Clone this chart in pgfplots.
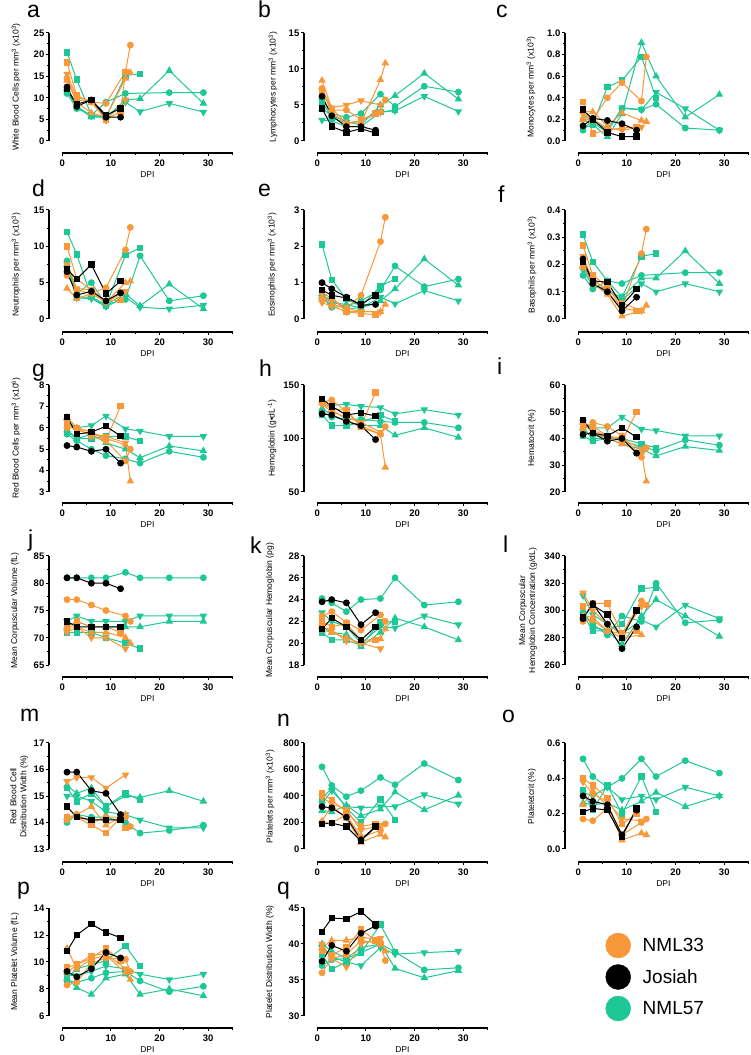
\documentclass[border=0pt]{standalone}
\usepackage{fontspec}
\setmainfont{Liberation Sans}
\usepackage{pgfplots}
\pgfplotsset{compat=1.18}
\definecolor{org}{RGB}{248,152,56}
\definecolor{grn}{RGB}{30,200,150}
\pgfplotsset{
  prism/.style={
    scale only axis, width=183.6pt, xmin=-2.7, xmax=35, anchor=south west, clip=false,
    axis x line*=bottom, axis y line*=left, axis line style={draw=none,-},
    xtick={0,10,20,30}, minor xtick={5,15,25,35},
    tick align=outside, major tick length=3.5pt, minor tick length=2pt,
    tick style={black, line width=1pt},
    /pgf/number format/assume math mode=true,
    tick label style={font=\fontsize{9.5}{10}\selectfont\bfseries},
    yticklabel style={inner xsep=1pt},
    xlabel={DPI},
    xlabel style={at={(axis description cs:0.536,0)}, anchor=center, yshift=-21.5pt, font=\fontsize{8.5}{9}\selectfont},
    ylabel style={at={(axis description cs:-0.1797,0.55)}, anchor=center, font=\fontsize{8.5}{10}\selectfont, align=center},
  },
  yl/.style={ylabel style={at={(axis description cs:#1,0.55)}}},
  gc/.style={grn, mark=*, mark size=2.9pt, line width=1pt, mark options={solid}},
  gs/.style={grn, mark=square*, mark size=2.7pt, line width=1pt, mark options={solid}},
  gt/.style={grn, mark=triangle*, mark size=3.4pt, line width=1pt, mark options={solid}},
  gd/.style={grn, mark=triangle*, mark size=3.4pt, line width=1pt, mark options={solid,rotate=180}},
  oc/.style={org, mark=*, mark size=2.9pt, line width=1pt, mark options={solid}},
  os/.style={org, mark=square*, mark size=2.7pt, line width=1pt, mark options={solid}},
  ot/.style={org, mark=triangle*, mark size=3.4pt, line width=1pt, mark options={solid}},
  od/.style={org, mark=triangle*, mark size=3.4pt, line width=1pt, mark options={solid,rotate=180}},
  kc/.style={black, mark=*, mark size=2.9pt, line width=1pt, mark options={solid}},
  ks/.style={black, mark=square*, mark size=2.7pt, line width=1pt, mark options={solid}},
}
\newcommand{\axl}[3]{%
  \draw[black, line width=1.4pt] (axis cs:-2.7,#1) -- (axis cs:-2.7,#3);
  \draw[black, line width=1.4pt] (axis cs:0,#2) -- (axis cs:35,#2);}
\newcommand{\plet}[3]{\node[anchor=base west, inner sep=0pt, font=\fontsize{23}{23}\selectfont] at (#1pt,#2pt) {#3};}
\begin{document}
\begin{tikzpicture}
\path[use as bounding box] (0,0) rectangle (750pt,1055pt);
% panel letters
\plet{27}{1037}{a}\plet{258}{1037}{b}\plet{496}{1037}{c}
\plet{32}{858}{d}\plet{258}{858}{e}\plet{498}{852}{f}
\plet{32}{678}{g}\plet{259}{678}{h}\plet{497}{680}{i}
\plet{28}{508}{j}\plet{250}{501}{k}\plet{503}{502}{l}
\plet{20}{333}{m}\plet{277}{328}{n}\plet{502}{332}{o}
\plet{17}{160}{p}\plet{277}{160}{q}

% ---------- a
\begin{axis}[prism, at={(49pt,902pt)}, height=120pt, ymin=-2.778, ymax=25,
  ytick={0,5,10,15,20,25}, minor ytick={2.5,7.5,12.5,17.5,22.5},
  ylabel={White Blood Cells per mm\textsuperscript{3} (x10\textsuperscript{3})}]
\axl{0}{-2.778}{25}
\addplot[gc] coordinates {(1,11)(3,7.5)(6,6)(9,9)(13,11)(22,11.2)(29,11.2)};
\addplot[gs] coordinates {(1,20.5)(3,14.2)(6,6)(9,5.5)(13,15.2)(16,15.5)};
\addplot[gt] coordinates {(1,12)(3,8)(6,5.5)(9,5.5)(13,9.5)(16,9.8)(22,16.3)(29,8.7)};
\addplot[gd] coordinates {(1,11.5)(3,8)(6,5.8)(9,5.5)(13,9)(16,6.8)(22,8.7)(29,6.7)};
\addplot[oc] coordinates {(1,14.5)(3,9.5)(6,9)(9,8.7)(13,16)(14,22.2)};
\addplot[os] coordinates {(1,18.2)(3,10.5)(6,9)(9,5)(12,6.8)(13,16)};
\addplot[ot] coordinates {(1,14)(3,9)(6,6.5)(9,5.5)(13,14.5)(14,15.8)};
\addplot[od] coordinates {(1,15.5)(3,10)(6,9.3)(9,4.8)(13,9.5)};
\addplot[kc] coordinates {(1,12.5)(3,8)(6,9.5)(9,5.5)(12,5.5)};
\addplot[ks] coordinates {(1,12)(3,8.5)(6,9.5)(9,6)(12,7.5)};
\end{axis}

% ---------- b
\begin{axis}[prism, at={(304pt,902pt)}, height=120pt, ymin=-1.667, ymax=15,
  ytick={0,5,10,15}, minor ytick={2.5,7.5,12.5}, yl=-0.1688,
  ylabel={Lymphocytes per mm\textsuperscript{3} (x10\textsuperscript{3})}]
\axl{0}{-1.667}{15}
\addplot[gc] coordinates {(1,5.8)(3,3.8)(6,3.3)(9,3.8)(13,6.5)(16,4.8)(22,7.6)(29,6.8)};
\addplot[gs] coordinates {(1,5.5)(3,3.2)(6,2.5)(9,2.8)(13,4.0)(16,4.3)};
\addplot[gt] coordinates {(1,4.5)(3,3.5)(6,2.7)(9,2.2)(13,5.0)(16,6.3)(22,9.4)(29,5.8)};
\addplot[gd] coordinates {(1,2.9)(3,2.8)(6,2.0)(9,2.0)(13,4.0)(16,4.2)(22,6.2)(29,4.1)};
\addplot[oc] coordinates {(1,7.3)(3,4.3)(6,4.3)(9,3.0)(13,4.0)(14,5.7)};
\addplot[os] coordinates {(1,7.0)(3,4.0)(6,2.4)(9,2.8)(12,3.8)};
\addplot[ot] coordinates {(1,8.4)(3,4.5)(6,2.5)(9,2.5)(13,8.5)(14,10.8)};
\addplot[od] coordinates {(1,7.0)(3,4.6)(6,5.0)(9,5.6)(13,5.0)};
\addplot[kc] coordinates {(1,6.2)(3,3.5)(6,2.0)(9,2.0)(12,1.5)};
\addplot[ks] coordinates {(1,4.5)(3,2.0)(6,1.2)(9,1.7)(12,1.1)};
\end{axis}

% ---------- c
\begin{axis}[prism, at={(565pt,902pt)}, height=120pt, ymin=-0.1111, ymax=1,
  ytick={0,0.2,0.4,0.6,0.8,1.0}, minor ytick={0.1,0.3,0.5,0.7,0.9},
  yticklabel style={/pgf/number format/.cd, fixed, fixed zerofill, precision=1},
  yl=-0.185,
  ylabel={Monocytes per mm\textsuperscript{3} (x10\textsuperscript{3})}]
\axl{0}{-0.1111}{1}
\addplot[gc] coordinates {(1,0.10)(3,0.20)(6,0.10)(9,0.30)(13,0.29)(16,0.34)(22,0.12)(29,0.10)};
\addplot[gs] coordinates {(1,0.12)(3,0.15)(6,0.50)(9,0.56)(13,0.78)(16,0.40)};
\addplot[gt] coordinates {(1,0.20)(3,0.15)(6,0.04)(9,0.25)(13,0.91)(16,0.60)(22,0.22)(29,0.43)};
\addplot[gd] coordinates {(1,0.25)(3,0.17)(6,0.08)(9,0.31)(13,0.29)(16,0.45)(22,0.30)(29,0.10)};
\addplot[oc] coordinates {(1,0.20)(3,0.20)(6,0.40)(9,0.54)(13,0.37)(14,0.78)};
\addplot[os] coordinates {(1,0.36)(3,0.07)(6,0.10)(9,0.12)(12,0.13)};
\addplot[ot] coordinates {(1,0.28)(3,0.27)(6,0.14)(9,0.26)(13,0.19)(14,0.18)};
\addplot[od] coordinates {(1,0.25)(3,0.20)(6,0.12)(9,0.10)(13,0.13)};
\addplot[kc] coordinates {(1,0.14)(3,0.21)(6,0.19)(9,0.16)(12,0.10)};
\addplot[ks] coordinates {(1,0.29)(3,0.20)(6,0.08)(9,0.04)(12,0.04)};
\end{axis}

% ---------- d
\begin{axis}[prism, at={(49pt,723pt)}, height=122pt, ymin=-1.789, ymax=15,
  ytick={0,5,10,15}, minor ytick={2.5,7.5,12.5},
  ylabel={Neutrophils per mm\textsuperscript{3} (x10\textsuperscript{3})}]
\axl{0}{-1.789}{15}
\addplot[gc] coordinates {(1,8.0)(3,3.5)(6,5.0)(9,2.0)(13,2.7)(16,8.7)(22,2.5)(29,3.2)};
\addplot[gs] coordinates {(1,12)(3,8.9)(6,3.0)(9,1.8)(13,8.8)(16,9.8)};
\addplot[gt] coordinates {(1,7.5)(3,3.0)(6,3.0)(9,2.0)(13,3.5)(16,1.8)(22,4.8)(29,1.4)};
\addplot[gd] coordinates {(1,7.0)(3,2.9)(6,2.8)(9,1.7)(13,3.0)(16,1.6)(22,1.4)(29,1.9)};
\addplot[oc] coordinates {(1,6.0)(3,4.0)(6,3.5)(9,4.3)(13,9.5)(14,12.6)};
\addplot[os] coordinates {(1,10)(3,5.5)(6,4.0)(9,2.5)(12,2.6)};
\addplot[ot] coordinates {(1,4.2)(3,2.8)(6,3.5)(9,2.3)(13,5.0)(14,5.2)};
\addplot[od] coordinates {(1,7.5)(3,4.2)(6,4.0)(9,2.3)(13,3.8)};
\addplot[kc] coordinates {(1,6.5)(3,3.3)(6,3.8)(9,2.5)(12,3.6)};
\addplot[ks] coordinates {(1,6.8)(3,5.5)(6,7.5)(9,3.5)(12,5.2)};
\end{axis}

% ---------- e
\begin{axis}[prism, at={(304pt,723pt)}, height=122pt, ymin=-0.358, ymax=3,
  ytick={0,1,2,3}, minor ytick={0.5,1.5,2.5}, yl=-0.174,
  ylabel={Eosinophils per mm\textsuperscript{3} (x10\textsuperscript{3})}]
\axl{0}{-0.358}{3}
\addplot[gc] coordinates {(1,0.6)(3,0.32)(6,0.35)(9,0.5)(13,0.8)(16,1.46)(22,0.89)(29,1.1)};
\addplot[gs] coordinates {(1,2.05)(3,1.08)(6,0.55)(9,0.35)(13,0.9)(16,1.1)};
\addplot[gt] coordinates {(1,0.7)(3,0.45)(6,0.4)(9,0.3)(13,0.5)(16,0.83)(22,1.65)(29,0.93)};
\addplot[gd] coordinates {(1,0.55)(3,0.5)(6,0.3)(9,0.3)(13,0.6)(16,0.42)(22,0.78)(29,0.5)};
\addplot[oc] coordinates {(1,0.75)(3,0.55)(6,0.3)(9,0.65)(13,2.13)(14,2.8)};
\addplot[os] coordinates {(1,0.55)(3,0.6)(6,0.2)(9,0.15)(12,0.12)};
\addplot[ot] coordinates {(1,0.6)(3,0.4)(6,0.3)(9,0.2)(13,0.2)(14,0.4)};
\addplot[od] coordinates {(1,0.45)(3,0.35)(6,0.2)(9,0.2)(13,0.2)};
\addplot[kc] coordinates {(1,1.0)(3,0.83)(6,0.6)(9,0.38)(12,0.4)};
\addplot[ks] coordinates {(1,0.8)(3,0.65)(6,0.58)(9,0.4)(12,0.65)};
\end{axis}

% ---------- f
\begin{axis}[prism, at={(565pt,723pt)}, height=122pt, ymin=-0.0477, ymax=0.4,
  ytick={0,0.1,0.2,0.3,0.4}, minor ytick={0.05,0.15,0.25,0.35},
  yticklabel style={/pgf/number format/.cd, fixed, fixed zerofill, precision=1},
  ylabel={Basophils per mm\textsuperscript{3} (x10\textsuperscript{3})}]
\axl{0}{-0.0477}{0.4}
\addplot[gc] coordinates {(1,0.16)(3,0.11)(6,0.14)(9,0.13)(13,0.16)(22,0.17)(29,0.17)};
\addplot[gs] coordinates {(1,0.31)(3,0.21)(6,0.14)(9,0.08)(13,0.23)(16,0.24)};
\addplot[gt] coordinates {(1,0.19)(3,0.13)(6,0.10)(9,0.08)(13,0.15)(16,0.15)(22,0.25)(29,0.13)};
\addplot[gd] coordinates {(1,0.18)(3,0.12)(6,0.11)(9,0.07)(13,0.13)(16,0.10)(22,0.13)(29,0.10)};
\addplot[oc] coordinates {(1,0.19)(3,0.15)(6,0.10)(9,0.04)(13,0.24)(14,0.33)};
\addplot[os] coordinates {(1,0.27)(3,0.16)(6,0.12)(9,0.04)(12,0.03)};
\addplot[ot] coordinates {(1,0.20)(3,0.13)(6,0.09)(9,0.01)(13,0.03)(14,0.05)};
\addplot[od] coordinates {(1,0.23)(3,0.14)(6,0.11)(9,0.06)(13,0.03)};
\addplot[kc] coordinates {(1,0.22)(3,0.13)(6,0.10)(9,0.03)(12,0.08)};
\addplot[ks] coordinates {(1,0.21)(3,0.14)(6,0.135)(9,0.05)(12,0.11)};
\end{axis}

% ---------- g
\begin{axis}[prism, at={(49pt,552pt)}, height=118pt, ymin=2.486, ymax=8,
  ytick={3,4,5,6,7,8}, minor ytick={3.5,4.5,5.5,6.5,7.5},
  ylabel={Red Blood Cells per mm\textsuperscript{3} (x10\textsuperscript{6})}]
\axl{3}{2.486}{8}
\addplot[gc] coordinates {(1,5.7)(3,5.4)(6,5.0)(9,4.7)(13,4.55)(16,4.35)(22,4.9)(29,4.62)};
\addplot[gs] coordinates {(1,5.8)(3,5.5)(6,5.5)(9,5.6)(13,5.6)(16,5.38)};
\addplot[gt] coordinates {(1,5.9)(3,5.5)(6,5.7)(9,5.3)(13,5.0)(16,4.6)(22,5.15)(29,4.92)};
\addplot[gd] coordinates {(1,6.3)(3,6.0)(6,6.1)(9,6.55)(13,5.95)(16,5.85)(22,5.6)(29,5.6)};
\addplot[oc] coordinates {(1,6.0)(3,6.0)(6,5.6)(9,5.4)(13,4.45)(14,5.0)};
\addplot[os] coordinates {(1,6.1)(3,6.0)(6,5.8)(9,5.4)(12,7.02)};
\addplot[ot] coordinates {(1,6.5)(3,6.0)(6,5.8)(9,5.5)(13,5.2)(14,3.5)};
\addplot[od] coordinates {(1,6.3)(3,5.9)(6,5.7)(9,5.6)(13,5.3)};
\addplot[kc] coordinates {(1,5.17)(3,5.1)(6,4.9)(9,5.0)(12,4.35)};
\addplot[ks] coordinates {(1,6.5)(3,5.7)(6,5.8)(9,6.07)(12,5.62)};
\end{axis}

% ---------- h
\begin{axis}[prism, at={(304pt,552pt)}, height=118pt, ymin=39.72, ymax=150,
  ytick={50,100,150}, minor ytick={75,125}, yl=-0.174,
  ylabel={Hemoglobin (g•dL\textsuperscript{-1})}]
\axl{50}{39.72}{150}
\addplot[gc] coordinates {(1,125)(3,120)(6,118)(9,118)(13,116)(16,115)(22,115)(29,110)};
\addplot[gs] coordinates {(1,122)(3,112)(6,112)(9,115)(13,122)(16,116)};
\addplot[gt] coordinates {(1,128)(3,122)(6,116)(9,112)(13,112)(16,103)(22,110)(29,101)};
\addplot[gd] coordinates {(1,132)(3,131)(6,132)(9,130)(13,129)(16,123)(22,127)(29,122)};
\addplot[oc] coordinates {(1,134)(3,136)(6,125)(9,112)(13,104)(14,111)};
\addplot[os] coordinates {(1,135)(3,128)(6,126)(9,112)(12,143)};
\addplot[ot] coordinates {(1,133)(3,127)(6,118)(9,110)(13,104)(14,73)};
\addplot[od] coordinates {(1,132)(3,125)(6,120)(9,115)(13,106)};
\addplot[kc] coordinates {(1,123)(3,122)(6,116)(9,112)(12,99)};
\addplot[ks] coordinates {(1,137)(3,130)(6,122)(9,124)(12,121)};
\end{axis}

% ---------- i
\begin{axis}[prism, at={(565pt,552pt)}, height=118pt, ymin=15.89, ymax=60,
  ytick={20,30,40,50,60}, minor ytick={25,35,45,55},
  ylabel={Hematocrit (\%)}]
\axl{20}{15.89}{60}
\addplot[gc] coordinates {(1,43)(3,41)(6,41)(9,39)(13,37)(16,35.5)(22,39.5)(29,37.5)};
\addplot[gs] coordinates {(1,41)(3,39)(6,40)(9,40)(13,38)(16,36.5)};
\addplot[gt] coordinates {(1,44)(3,40)(6,40)(9,38)(13,36)(16,33.5)(22,37)(29,35.5)};
\addplot[gd] coordinates {(1,46)(3,44)(6,44)(9,48)(13,43.5)(16,43)(22,41)(29,41)};
\addplot[oc] coordinates {(1,44)(3,46)(6,44.5)(9,41)(13,33)(14,36.5)};
\addplot[os] coordinates {(1,44)(3,44.5)(6,41)(9,39)(12,50)};
\addplot[ot] coordinates {(1,46)(3,42)(6,40)(9,38)(13,35)(14,24)};
\addplot[od] coordinates {(1,45)(3,43)(6,41)(9,40)(13,36)};
\addplot[kc] coordinates {(1,41.5)(3,42)(6,39)(9,40)(12,34.5)};
\addplot[ks] coordinates {(1,47)(3,42)(6,41)(9,44)(12,40.5)};
\end{axis}

% ---------- j
\begin{axis}[prism, at={(49pt,378pt)}, height=121pt, ymin=62.80, ymax=85,
  ytick={65,70,75,80,85}, minor ytick={67.5,72.5,77.5,82.5}, yl=-0.185,
  ylabel={Mean Corpuscular Volume (fL)}]
\axl{65}{62.80}{85}
\addplot[gc] coordinates {(1,81)(3,81)(6,81)(9,81)(13,82)(16,81)(22,81)(29,81)};
\addplot[gs] coordinates {(1,71)(3,71)(6,71)(9,70)(13,69)(16,68)};
\addplot[gt] coordinates {(1,72)(3,73)(6,72)(9,72)(13,72)(16,72)(22,73)(29,73)};
\addplot[gd] coordinates {(1,73)(3,74)(6,73)(9,73)(13,73)(16,74)(22,74)(29,74)};
\addplot[oc] coordinates {(1,77)(3,77)(6,76)(9,75)(13,74)(14,73)};
\addplot[os] coordinates {(1,72)(3,73)(6,72)(9,72)(12,71)};
\addplot[ot] coordinates {(1,72)(3,72)(6,71)(9,71)(13,70)(14,69)};
\addplot[od] coordinates {(1,71)(3,72)(6,70)(9,70)(13,68)};
\addplot[kc] coordinates {(1,81)(3,81)(6,80)(9,80)(12,79)};
\addplot[ks] coordinates {(1,73)(3,72)(6,72)(9,72)(12,72)};
\end{axis}

% ---------- k
\begin{axis}[prism, at={(304pt,378pt)}, height=121pt, ymin=16.90, ymax=28,
  ytick={18,20,22,24,26,28}, minor ytick={19,21,23,25,27}, yl=-0.185,
  ylabel={Mean Corpuscular Hemoglobin (pg)}]
\axl{18}{16.90}{28}
\addplot[gc] coordinates {(1,24.1)(3,23.7)(6,22.9)(9,24.0)(13,24.1)(16,26.0)(22,23.5)(29,23.8)};
\addplot[gs] coordinates {(1,21.0)(3,20.3)(6,20.3)(9,19.8)(13,21.9)(16,22.0)};
\addplot[gt] coordinates {(1,21.5)(3,21.0)(6,20.8)(9,19.7)(13,21.0)(16,22.3)(22,21.5)(29,20.3)};
\addplot[gd] coordinates {(1,22.8)(3,22.0)(6,21.5)(9,20.0)(13,21.5)(16,21.4)(22,22.5)(29,21.7)};
\addplot[oc] coordinates {(1,22.5)(3,22.9)(6,21.9)(9,21.2)(13,22.6)(14,22.0)};
\addplot[os] coordinates {(1,22.0)(3,21.5)(6,21.8)(9,20.3)(12,20.3)};
\addplot[ot] coordinates {(1,21.2)(3,21.0)(6,20.5)(9,20.0)(13,20.4)(14,21.3)};
\addplot[od] coordinates {(1,21.5)(3,21.2)(6,20.2)(9,20.0)(13,19.5)};
\addplot[kc] coordinates {(1,23.8)(3,24.0)(6,23.7)(9,21.7)(12,22.8)};
\addplot[ks] coordinates {(1,21.3)(3,22.3)(6,21.5)(9,20.3)(12,21.5)};
\end{axis}

% ---------- l
\begin{axis}[prism, at={(565pt,378pt)}, height=121pt, ymin=251.19, ymax=340,
  ytick={260,280,300,320,340}, minor ytick={270,290,310,330}, yl=-0.2015,
  ylabel={Mean Corpuscular\\Hemoglobin Concentration (g/dL)}]
\axl{260}{251.19}{340}
\addplot[gc] coordinates {(1,298)(3,290)(6,282)(9,296)(13,292)(16,320)(22,291)(29,293)};
\addplot[gs] coordinates {(1,297)(3,285)(6,285)(9,290)(13,316)(16,317)};
\addplot[gt] coordinates {(1,300)(3,288)(6,285)(9,275)(13,296)(16,308)(22,296)(29,281)};
\addplot[gd] coordinates {(1,311)(3,297)(6,290)(9,283)(13,293)(16,288)(22,304)(29,294)};
\addplot[oc] coordinates {(1,292)(3,293)(6,285)(9,283)(13,307)(14,304)};
\addplot[os] coordinates {(1,303)(3,305)(6,305)(9,283)(12,285)};
\addplot[ot] coordinates {(1,296)(3,295)(6,285)(9,280)(13,282)};
\addplot[od] coordinates {(1,313)(3,300)(6,290)(9,282)(13,303)};
\addplot[kc] coordinates {(1,294)(3,305)(6,290)(9,272)(12,288)};
\addplot[ks] coordinates {(1,295)(3,304)(6,297)(9,280)(12,300)};
\end{axis}

% ---------- m
\begin{axis}[prism, at={(49pt,193pt)}, height=119pt, ymin=12.51, ymax=17,
  ytick={13,14,15,16,17}, minor ytick={13.5,14.5,15.5,16.5}, yl=-0.163,
  ylabel={Red Blood Cell\\Distribution Width (\%)}]
\axl{13}{12.51}{17}
\addplot[gc] coordinates {(1,14.0)(3,14.3)(6,14.2)(9,14.2)(13,14.0)(16,13.6)(22,13.7)(29,13.9)};
\addplot[gs] coordinates {(1,15.3)(3,14.8)(6,15.1)(9,14.6)(13,15.1)(16,14.85)};
\addplot[gt] coordinates {(1,15.4)(3,15.1)(6,15.3)(9,14.6)(13,15.0)(16,14.95)(22,15.2)(29,14.8)};
\addplot[gd] coordinates {(1,15.0)(3,15.0)(6,14.8)(9,14.4)(13,14.3)(16,14.1)(22,13.8)(29,13.8)};
\addplot[oc] coordinates {(1,14.1)(3,14.3)(6,14.0)(9,14.2)(13,14.2)(14,13.85)};
\addplot[os] coordinates {(1,14.2)(3,14.2)(6,13.9)(9,13.6)(12,14.2)(13,13.8)};
\addplot[ot] coordinates {(1,14.2)(3,14.3)(6,14.6)(9,13.9)(13,14.3)};
\addplot[od] coordinates {(1,15.55)(3,15.7)(6,15.7)(9,15.3)(13,15.8)};
\addplot[kc] coordinates {(1,15.9)(3,15.9)(6,15.2)(9,15.1)(12,14.3)};
\addplot[ks] coordinates {(1,14.6)(3,14.2)(6,14.1)(9,14.1)(12,14.1)};
\end{axis}

% ---------- n
\begin{axis}[prism, at={(304pt,193pt)}, height=119pt, ymin=-98.1, ymax=800,
  ytick={0,200,400,600,800}, minor ytick={100,300,500,700}, yl=-0.185,
  ylabel={Platelets per mm\textsuperscript{3} (x10\textsuperscript{3})}]
\axl{0}{-98.1}{800}
\addplot[gc] coordinates {(1,620)(3,480)(6,395)(9,440)(13,540)(16,485)(22,645)(29,520)};
\addplot[gs] coordinates {(1,380)(3,460)(6,310)(9,200)(13,375)(16,220)};
\addplot[gt] coordinates {(1,290)(3,280)(6,330)(9,250)(13,300)(16,430)(22,295)(29,405)};
\addplot[gd] coordinates {(1,340)(3,440)(6,320)(9,310)(13,320)(16,320)(22,410)(29,340)};
\addplot[oc] coordinates {(1,200)(3,195)(6,260)(9,90)(13,140)(14,190)};
\addplot[os] coordinates {(1,420)(3,370)(6,280)(9,170)(12,190)};
\addplot[ot] coordinates {(1,210)(3,330)(6,230)(9,50)(13,110)(14,90)};
\addplot[od] coordinates {(1,390)(3,340)(6,300)(9,140)(13,180)};
\addplot[kc] coordinates {(1,320)(3,310)(6,240)(9,70)(12,170)};
\addplot[ks] coordinates {(1,190)(3,195)(6,170)(9,60)(12,170)};
\end{axis}

% ---------- o
\begin{axis}[prism, at={(565pt,193pt)}, height=119pt, ymin=-0.0736, ymax=0.6,
  ytick={0,0.2,0.4,0.6}, minor ytick={0.1,0.3,0.5},
  yticklabel style={/pgf/number format/.cd, fixed, fixed zerofill, precision=1},
  ylabel={Plateletcrit (\%)}]
\axl{0}{-0.0736}{0.6}
\addplot[gc] coordinates {(1,0.51)(3,0.41)(6,0.35)(9,0.40)(13,0.51)(16,0.41)(22,0.50)(29,0.43)};
\addplot[gs] coordinates {(1,0.33)(3,0.22)(6,0.36)(9,0.20)(13,0.41)(16,0.21)};
\addplot[gt] coordinates {(1,0.26)(3,0.25)(6,0.26)(9,0.22)(13,0.27)(16,0.32)(22,0.24)(29,0.30)};
\addplot[gd] coordinates {(1,0.32)(3,0.30)(6,0.35)(9,0.28)(13,0.30)(16,0.28)(22,0.35)(29,0.30)};
\addplot[oc] coordinates {(1,0.17)(3,0.16)(6,0.23)(9,0.08)(13,0.15)(14,0.17)};
\addplot[os] coordinates {(1,0.40)(3,0.36)(6,0.29)(9,0.14)(12,0.20)};
\addplot[ot] coordinates {(1,0.25)(3,0.33)(6,0.24)(9,0.05)(13,0.09)(14,0.08)};
\addplot[od] coordinates {(1,0.38)(3,0.31)(6,0.27)(9,0.17)(13,0.16)};
\addplot[kc] coordinates {(1,0.30)(3,0.27)(6,0.25)(9,0.08)(12,0.22)};
\addplot[ks] coordinates {(1,0.21)(3,0.23)(6,0.22)(9,0.07)(12,0.23)};
\end{axis}

% ---------- p
\begin{axis}[prism, at={(49pt,27pt)}, height=120pt, ymin=5.111, ymax=14,
  ytick={6,8,10,12,14}, minor ytick={7,9,11,13}, yl=-0.185,
  ylabel={Mean Platelet Volume (fL)}]
\axl{6}{5.111}{14}
\addplot[gc] coordinates {(1,8.6)(3,8.5)(6,8.8)(9,9.2)(13,9.3)(16,8.6)(22,7.8)(29,8.2)};
\addplot[gs] coordinates {(1,8.8)(3,9.5)(6,9.8)(9,10.1)(13,11.2)(16,9.7)};
\addplot[gt] coordinates {(1,8.8)(3,8.1)(6,7.6)(9,8.8)(13,9.1)(16,7.6)(22,8.0)(29,7.5)};
\addplot[gd] coordinates {(1,9.0)(3,9.0)(6,9.3)(9,9.7)(13,9.5)(16,9.1)(22,8.7)(29,9.1)};
\addplot[oc] coordinates {(1,8.3)(3,8.5)(6,9.9)(9,10.3)(13,10.2)(14,9.3)};
\addplot[os] coordinates {(1,9.6)(3,9.8)(6,10.3)(9,11.0)(12,10.1)};
\addplot[ot] coordinates {(1,11.0)(3,9.5)(6,10.2)(9,10.5)(13,9.2)(14,8.7)};
\addplot[od] coordinates {(1,9.2)(3,9.8)(6,10.5)(9,10.6)(13,9.5)};
\addplot[kc] coordinates {(1,9.3)(3,8.9)(6,9.5)(9,10.7)(12,10.3)};
\addplot[ks] coordinates {(1,10.8)(3,12.0)(6,12.8)(9,12.2)(12,11.8)};
\end{axis}

% ---------- q
\begin{axis}[prism, at={(304pt,27pt)}, height=120pt, ymin=28.33, ymax=45,
  ytick={30,35,40,45}, minor ytick={32.5,37.5,42.5}, yl=-0.185,
  ylabel={Platelet Distribution Width (\%)}]
\axl{30}{28.33}{45}
\addplot[gc] coordinates {(1,37.0)(3,37.8)(6,38.0)(9,38.8)(13,40.0)(16,38.9)(22,36.4)(29,36.7)};
\addplot[gs] coordinates {(1,38.5)(3,36.5)(6,37.5)(9,38.8)(13,42.7)(16,38.9)};
\addplot[gt] coordinates {(1,40.0)(3,39.0)(6,38.0)(9,39.5)(13,40.0)(16,36.6)(22,35.3)(29,36.3)};
\addplot[gd] coordinates {(1,39.5)(3,38.2)(6,37.5)(9,37.0)(13,39.5)(16,38.6)(22,38.8)(29,39.0)};
\addplot[oc] coordinates {(1,36.0)(3,38.0)(6,38.5)(9,40.5)(13,40.0)(14,37.7)};
\addplot[os] coordinates {(1,39.0)(3,38.5)(6,39.5)(9,42.0)(12,40.5)(13,40.0)};
\addplot[ot] coordinates {(1,39.5)(3,40.5)(6,40.5)(9,41.0)(13,40.5)(14,39.0)};
\addplot[od] coordinates {(1,40.0)(3,38.0)(6,36.8)(9,40.0)(13,40.8)};
\addplot[kc] coordinates {(1,37.6)(3,39.8)(6,39.0)(9,41.5)(12,42.5)};
\addplot[ks] coordinates {(1,41.7)(3,43.6)(6,43.5)(9,44.5)(12,42.7)};
\end{axis}

% ---------- legend
\begin{axis}[at={(605.5pt,78pt)}, anchor=south west, scale only axis, width=10pt, height=10pt,
  hide axis, xmin=0, xmax=1, ymin=0, ymax=1,
  legend style={at={(0,0)}, anchor=west, draw=none, fill=none, inner sep=0pt,
    font=\fontsize{19}{19}\selectfont, row sep=6.5pt, column sep=12pt, nodes={inner sep=0pt}},
  legend cell align=left]
\addlegendimage{only marks, mark=*, mark size=12.5pt, color=org}
\addlegendentry{NML33}
\addlegendimage{only marks, mark=*, mark size=12.5pt, color=black}
\addlegendentry{Josiah}
\addlegendimage{only marks, mark=*, mark size=12.5pt, color=grn}
\addlegendentry{NML57}
\end{axis}
\end{tikzpicture}
\end{document}
